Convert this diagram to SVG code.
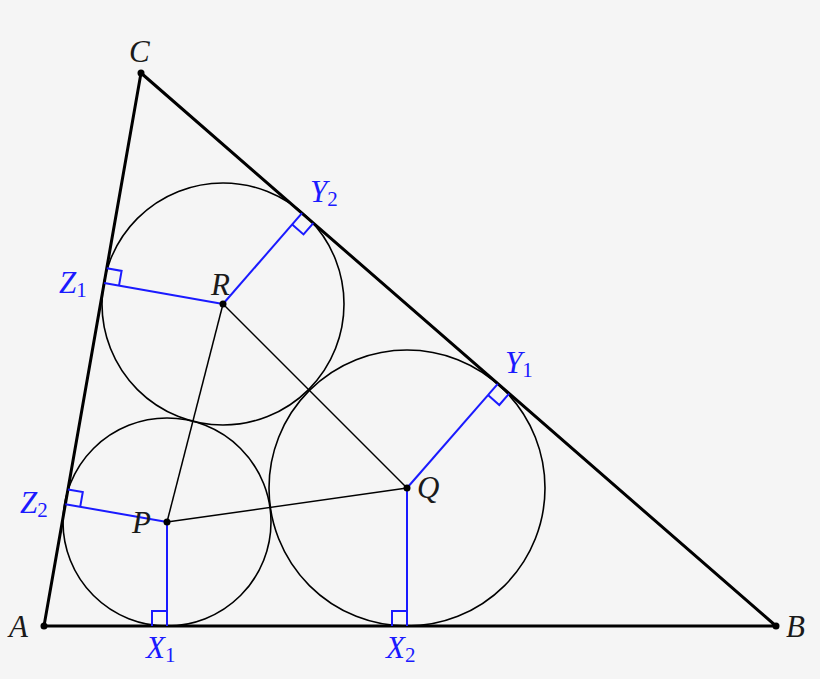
<svg xmlns="http://www.w3.org/2000/svg" width="820" height="679" viewBox="0 0 820 679">
<style>
.bg{fill:#f5f5f5}
.tri{fill:none;stroke:#000;stroke-width:3;stroke-linejoin:round}
.circ{fill:none;stroke:#000;stroke-width:1.6}
.seg{fill:none;stroke:#000;stroke-width:1.5}
.blue{fill:none;stroke:#1a1aff;stroke-width:2}
.ra{fill:none;stroke:#1a1aff;stroke-width:2}
.dot{fill:#000}
.lbl{font-family:"Liberation Serif","DejaVu Serif",serif;font-style:italic;font-size:31px;fill:#1a1a1a}
.blbl{font-family:"Liberation Serif","DejaVu Serif",serif;font-style:italic;font-size:31px;fill:#1a1aff}
.sub{font-style:normal;font-size:21px}
</style>
<rect class="bg" x="0" y="0" width="820" height="679"/>
<g id="circles">
<circle class="circ" cx="167" cy="522" r="104"/>
<circle class="circ" cx="407" cy="488" r="138"/>
<circle class="circ" cx="223" cy="304" r="121"/>
</g>
<g id="connectors">
<polygon class="tri" points="44,626 776,626 141,73"/>
<line class="seg" x1="167" y1="522" x2="407" y2="488"/>
<line class="seg" x1="167" y1="522" x2="223" y2="304"/>
<line class="seg" x1="223" y1="304" x2="407" y2="488"/>
<line class="blue" x1="167" y1="522" x2="167" y2="626"/>
<line class="blue" x1="407" y1="488" x2="407" y2="626"/>
<line class="blue" x1="407" y1="488" x2="497.8" y2="383.8"/>
<line class="blue" x1="223" y1="304" x2="302" y2="213.2"/>
<line class="blue" x1="223" y1="304" x2="104.2" y2="283.1"/>
<line class="blue" x1="167" y1="522" x2="65.4" y2="504.2"/>
<polyline class="ra" points="152,626 152,611 167,611"/>
<polyline class="ra" points="392,626 392,611 407,611"/>
<polyline class="ra" points="509.1,393.7 499.3,405 488,395.1"/>
<polyline class="ra" points="313.3,223.1 303.5,234.4 292.2,224.5"/>
<polyline class="ra" points="106.8,268.3 121.6,270.9 119,285.7"/>
<polyline class="ra" points="68,489.4 82.8,492 80.2,506.8"/>
</g>
<g id="A"><circle class="dot" cx="44" cy="626" r="3.5"/><text class="lbl" x="9" y="637">A</text></g>
<g id="B"><circle class="dot" cx="776" cy="626" r="3.5"/><text class="lbl" x="786" y="637">B</text></g>
<g id="C"><circle class="dot" cx="141" cy="73" r="3.5"/><text class="lbl" x="129" y="62">C</text></g>
<g id="P"><circle class="dot" cx="167" cy="522" r="3.5"/><text class="lbl" x="132" y="533">P</text></g>
<g id="Q"><circle class="dot" cx="407" cy="488" r="3.5"/><text class="lbl" x="417" y="498">Q</text></g>
<g id="R"><circle class="dot" cx="223" cy="304" r="3.5"/><text class="lbl" x="211" y="295">R</text></g>
<g id="X1"><text class="blbl" x="146" y="658">X<tspan class="sub" dy="4">1</tspan></text></g>
<g id="X2"><text class="blbl" x="386" y="658">X<tspan class="sub" dy="4">2</tspan></text></g>
<g id="Y1"><text class="blbl" x="505" y="373">Y<tspan class="sub" dy="4">1</tspan></text></g>
<g id="Y2"><text class="blbl" x="310" y="202">Y<tspan class="sub" dy="4">2</tspan></text></g>
<g id="Z1"><text class="blbl" x="59" y="293">Z<tspan class="sub" dy="4">1</tspan></text></g>
<g id="Z2"><text class="blbl" x="20" y="513">Z<tspan class="sub" dy="4">2</tspan></text></g>
</svg>
